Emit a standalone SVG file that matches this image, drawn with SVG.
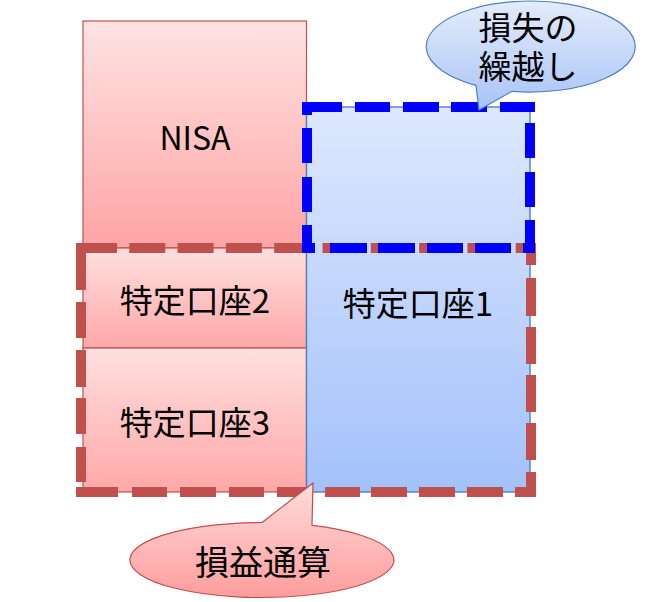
<svg xmlns="http://www.w3.org/2000/svg" width="650" height="602" viewBox="0 0 650 602">
<defs>
<linearGradient id="gNisa" x1="0" y1="0" x2="0" y2="1"><stop offset="0" stop-color="#ffe3e3"/><stop offset="1" stop-color="#ffa4a4"/></linearGradient>
<linearGradient id="gRed" x1="0" y1="0" x2="0" y2="1"><stop offset="0" stop-color="#ffdfdf"/><stop offset="1" stop-color="#ffa8a8"/></linearGradient>
<linearGradient id="gBlue" x1="0" y1="0" x2="0" y2="1"><stop offset="0" stop-color="#dde8fd"/><stop offset="1" stop-color="#a3c1fa"/></linearGradient>
<linearGradient id="gCallB" x1="0" y1="0" x2="0" y2="1"><stop offset="0" stop-color="#e4ecfc"/><stop offset="1" stop-color="#a8c3f6"/></linearGradient>
<linearGradient id="gCallR" x1="0" y1="0" x2="0" y2="1"><stop offset="0" stop-color="#ffdcdc"/><stop offset="1" stop-color="#ff9d9d"/></linearGradient>
</defs>
<style>
.rbox{stroke:#c0504d;stroke-width:1.2}
.bbox{stroke:#4f81bd;stroke-width:1.4}
.t{font-family:"Noto Sans CJK JP","Noto Sans",sans-serif;fill:#000;text-anchor:middle}
.rd{stroke:#c0504d;stroke-width:10;fill:none}
.bd{stroke:#0000ff;stroke-width:10;fill:none}
</style>
<g id="nisa">
<rect x="83" y="21" width="223.5" height="227" fill="url(#gNisa)" class="rbox"/>
<text x="195" y="150" class="t" font-size="32">NISA</text>
</g>
<g id="tokutei2">
<rect x="83" y="248" width="223.5" height="100" fill="url(#gRed)" class="rbox"/>
<text x="195" y="313" class="t" font-size="33">特定口座2</text>
</g>
<g id="tokutei3">
<rect x="83" y="348" width="223.5" height="144" fill="url(#gRed)" class="rbox"/>
<text x="195" y="435" class="t" font-size="33">特定口座3</text>
</g>
<g id="tokutei1">
<rect x="306.5" y="107" width="223.5" height="385" fill="url(#gBlue)" class="bbox"/>
<text x="418" y="316" class="t" font-size="33">特定口座1</text>
</g>
<g id="connectors">
<g id="soneki-range">
<line x1="76" y1="248" x2="536" y2="248" class="rd" stroke-dasharray="36 12.3" stroke-dashoffset="43.3"/>
<line x1="531" y1="243" x2="531" y2="497" class="rd" stroke-dasharray="22 13 38 11 37 11 37 11 37 12 25"/>
<line x1="76" y1="492" x2="536" y2="492" class="rd" stroke-dasharray="42 14 35 13 36 13 35 13 36 12 35 11 36 12 36 12 36 12 21"/>
<line x1="81" y1="243" x2="81" y2="497" class="rd" stroke-dasharray="47 12 36 12 37 11 36 13 35 15"/>
</g>
<g id="kurikoshi-range">
<line x1="302" y1="107" x2="535" y2="107" class="bd" stroke-dasharray="40 13 35 13 36 12 36 13 35"/>
<line x1="530" y1="102" x2="530" y2="253" class="bd" stroke-dasharray="10 11 35 14 35 13 33"/>
<line x1="302" y1="248" x2="535" y2="248" class="bd" stroke-dasharray="13 15 37 11 37 12 36 12 36 12 12"/>
<line x1="307" y1="102" x2="307" y2="253" class="bd" stroke-dasharray="13 13 35 14 35 13 28"/>
</g>
</g>
<g id="callout-kurikoshi">
<path d="M476,85.3 A104.5,45.5 0 1 1 512,91.3 L479,110 Z" fill="url(#gCallB)" stroke="#4f81bd" stroke-width="1.2"/>
<text x="528" y="40" class="t" font-size="33">損失の</text>
<text x="528" y="79" class="t" font-size="33">繰越し</text>
</g>
<g id="callout-soneki">
<path d="M262,522.5 L313,483 L312,525.3 A132,37.5 0 1 1 262,522.5 Z" fill="url(#gCallR)" stroke="#c0504d" stroke-width="1.2"/>
<text x="263" y="575" class="t" font-size="34">損益通算</text>
</g>
</svg>
